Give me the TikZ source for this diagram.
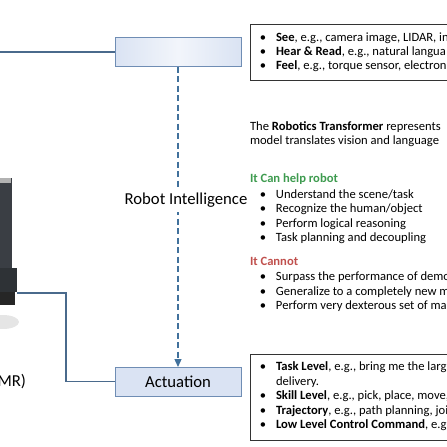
\documentclass[tikz,border=0pt]{standalone}
\usepackage{fontspec}
\setmainfont{Carlito}
\usetikzlibrary{arrows.meta}
\definecolor{boxfill}{HTML}{DAE3F3}
\definecolor{boxline}{HTML}{6F8DB4}
\definecolor{linkblue}{HTML}{4A6A8C}
\definecolor{dashblue}{HTML}{41719C}
\definecolor{cangreen}{HTML}{3E9B4F}
\definecolor{cantred}{HTML}{C0504D}
\definecolor{robotgray}{HTML}{3A3E44}
\newcommand{\bul}{\makebox[26pt][c]{\textbullet}}

\begin{document}
\begin{tikzpicture}[x=1pt,y=-1pt,inner sep=0pt,outer sep=0pt,
stagebox/.style={draw=boxline,fill=boxfill,line width=1pt,minimum width=126pt,minimum height=29pt,font=\fontsize{16.7}{20}\selectfont},
infobox/.style={draw=black!80,line width=1pt,anchor=north west,minimum width=230pt},
txtline/.style={anchor=west,text height=8.8pt,text depth=2.6pt,font=\fontsize{12.6}{15}\selectfont},
link/.style={draw=linkblue,line width=1.3pt}]

\useasboundingbox (0,0) rectangle (447,447);
\clip (0,0) rectangle (447,447);

% robot (cut off at the left edge)
\fill[gray!20] (3,322) ellipse (16 and 7);
\fill[robotgray] (-10,178) rectangle (12,268);
\fill[gray!60] (-10,178) rectangle (11,183);
\fill[robotgray!80!black] (-10,268) rectangle (17,292);
\fill[black!85] (-10,292) rectangle (15,305);
\draw (26,382) node[anchor=east,font=\fontsize{16.7}{20}\selectfont] (amr) {MR)};

% stages
\draw (178,52) node[stagebox,left color=boxfill,right color=boxfill,middle color=boxfill!35] (percep) {};
\draw (178,381.5) node[stagebox] (actuation) {Actuation};
\coordinate (leftin) at (0,52);
\coordinate (robotport) at (17,293);
\draw[link] (leftin) -- (percep.west);
\draw[link] (robotport) -- ++(49,0) |- (actuation.west);
\draw[dashblue,line width=1.3pt,dash pattern=on 6pt off 3.5pt,-{Triangle[width=7pt,length=8pt]}] (percep.south) -- (actuation.north);
\draw (186,200) node[fill=white,inner xsep=1pt,inner ysep=5pt,font=\fontsize{16.7}{20}\selectfont] (intel) {Robot Intelligence};

% info boxes
\draw (250,24) node[infobox,minimum height=56pt] (sense) {};
\draw (250,354) node[infobox,minimum height=86pt] (command) {};
\foreach \y/\t [count=\i] in {38/{\bul\textbf{See}, e.g., camera image, LIDAR, in},
  52/{\bul\textbf{Hear \& Read}, e.g., natural langua},
  66/{\bul\textbf{Feel}, e.g., torque sensor, electron}}
  \draw (250,\y) node[txtline] (see\i) {\t};
\foreach \y/\t [count=\i] in {127/{The \textbf{Robotics Transformer} represents},
  141/{model translates vision and language},
  179/{\textcolor{cangreen}{\textbf{It Can help robot}}},
  195/{\bul Understand the scene/task},
  209/{\bul Recognize the human/object},
  224/{\bul Perform logical reasoning},
  238/{\bul Task planning and decoupling},
  262/{\textcolor{cantred}{\textbf{It Cannot}}},
  277/{\bul Surpass the performance of demo},
  292/{\bul Generalize to a completely new m},
  306/{\bul Perform very dexterous set of ma}}
  \draw (250,\y) node[txtline] (rt\i) {\t};
\foreach \y/\t [count=\i] in {367/{\bul\textbf{Task Level}, e.g., bring me the larg},
  382/{\hspace*{26pt}delivery.},
  396/{\bul\textbf{Skill Level}, e.g., pick, place, move,},
  411/{\bul\textbf{Trajectory}, e.g., path planning, joi},
  425/{\bul\textbf{Low Level Control Command}, e.g.}}
  \draw (250,\y) node[txtline] (cmd\i) {\t};
\end{tikzpicture}
\end{document}
